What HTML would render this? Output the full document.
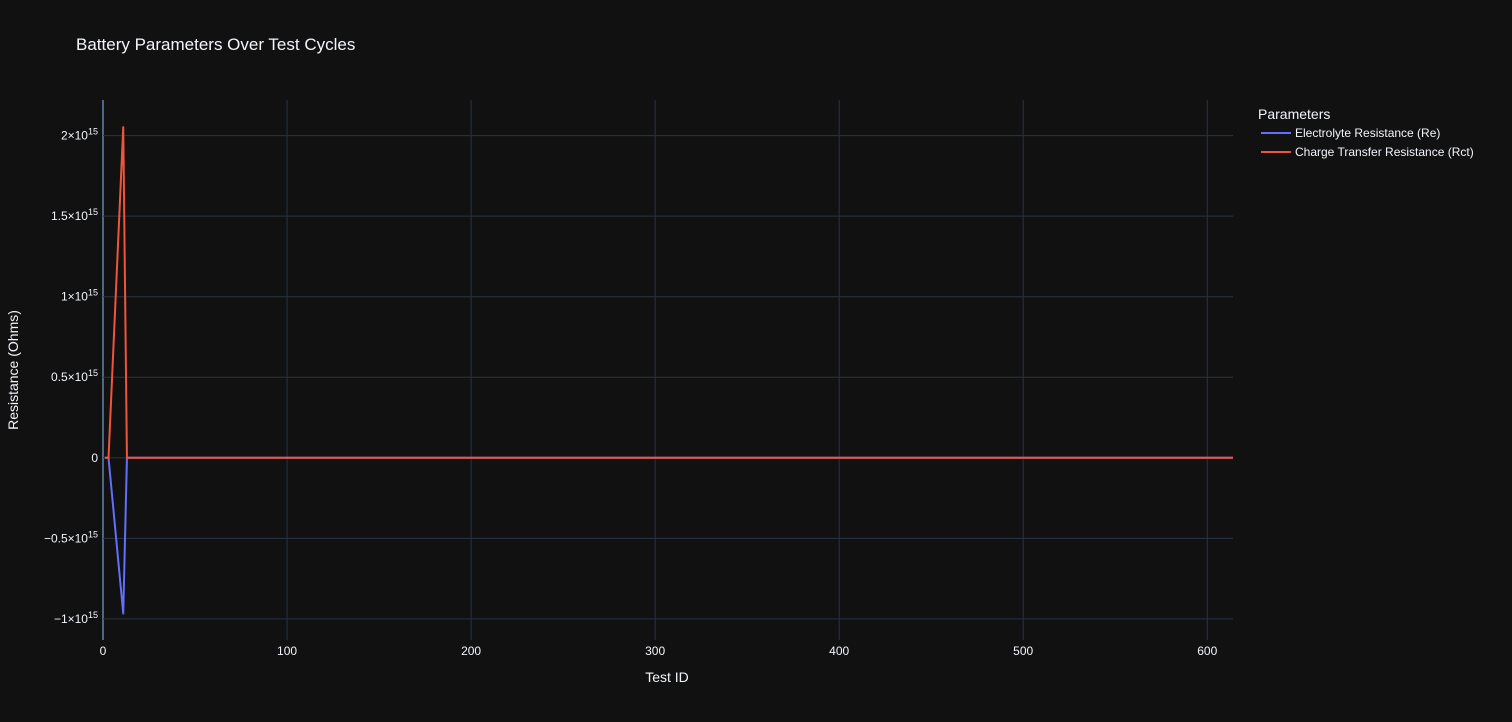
<!DOCTYPE html>
<html><head><meta charset="utf-8"><style>
body{margin:0;background:#111111;}
svg{display:block;font-family:"Liberation Sans",sans-serif;}
</style></head><body>
<svg id="chart" width="1512" height="722">
<rect width="1512" height="722" fill="#111111"/>
<text x="76" y="50" fill="#f2f5fa" font-size="17">Battery Parameters Over Test Cycles</text>
<g id="grid"></g><g id="marks"></g><g id="axes"></g>
<text x="667" y="682" fill="#f2f5fa" font-size="14" text-anchor="middle">Test ID</text>
<text transform="translate(18,370) rotate(-90)" fill="#f2f5fa" font-size="14" text-anchor="middle">Resistance (Ohms)</text>
<g>
<text x="1258" y="119" fill="#f2f5fa" font-size="14">Parameters</text>
<g><line x1="1261" y1="133" x2="1291" y2="133" stroke="#636efa" stroke-width="2"/><text x="1295" y="137" fill="#f2f5fa" font-size="12">Electrolyte Resistance (Re)</text></g>
<g><line x1="1261" y1="152" x2="1291" y2="152" stroke="#ef553b" stroke-width="2"/><text x="1295" y="156" fill="#f2f5fa" font-size="12">Charge Transfer Resistance (Rct)</text></g>
</g>
</svg>
<script>
const testIds=[1,3,11,13,100,300,500,614];
const reValues=[0,0,-0.967e15,0,0,0,0,0];
const rctValues=[0,0,2.053e15,0,0,0,0,0];
const xTicks=[0,100,200,300,400,500,600];
const yTicks=[-1e15,-0.5e15,0,0.5e15,1e15,1.5e15,2e15];
const yTickLabels=["−1×10","−0.5×10","0","0.5×10","1×10","1.5×10","2×10"];
const L=103,R=1233,T=100,B=640;
const xMin=0,xMax=614,yMin=-1.131e15,yMax=2.221e15;
const X=v=>L+(v-xMin)/(xMax-xMin)*(R-L);
const Y=v=>B-(v-yMin)/(yMax-yMin)*(B-T);
const NS="http://www.w3.org/2000/svg";
function mk(tag,attrs,parent){const e=document.createElementNS(NS,tag);for(const k in attrs)e.setAttribute(k,attrs[k]);parent.appendChild(e);return e;}
const grid=document.getElementById('grid'),axes=document.getElementById('axes'),marks=document.getElementById('marks');
xTicks.forEach(t=>{
 const l=mk('line',{x1:X(t),x2:X(t),y1:T,y2:B,stroke:t===0?'#506784':'#283442','stroke-width':t===0?2:1},grid);
 
 
 const tx=mk('text',{x:X(t),y:B+15,fill:'#f2f5fa','font-size':12,'text-anchor':'middle'},axes);
 tx.textContent=t;
 
 
});
yTicks.forEach((t,i)=>{
 const l=mk('line',{x1:L,x2:R,y1:Y(t),y2:Y(t),stroke:'#283442','stroke-width':1},grid);
 
 
 const tx=mk('text',{x:L-5,y:Y(t)+4,fill:'#f2f5fa','font-size':12,'text-anchor':'end'},axes);
 
 
 if(t===0){tx.textContent='0';}
 else{tx.appendChild(document.createTextNode(yTickLabels[i]));const s=mk('tspan',{dy:-5,'font-size':9},tx);s.textContent='15';}
});
function series(vals,color,name){
 const d=testIds.map((x,i)=>(i?'L':'M')+X(x)+','+Y(vals[i])).join(' ');
 const p=mk('path',{d:d,fill:'none',stroke:color,'stroke-width':2,'stroke-linejoin':'round'},marks);
 
 
}
series(reValues,'#636efa','line-electrolyte-resistance');
series(rctValues,'#ef553b','line-charge-transfer-resistance');
</script>
</body></html>
